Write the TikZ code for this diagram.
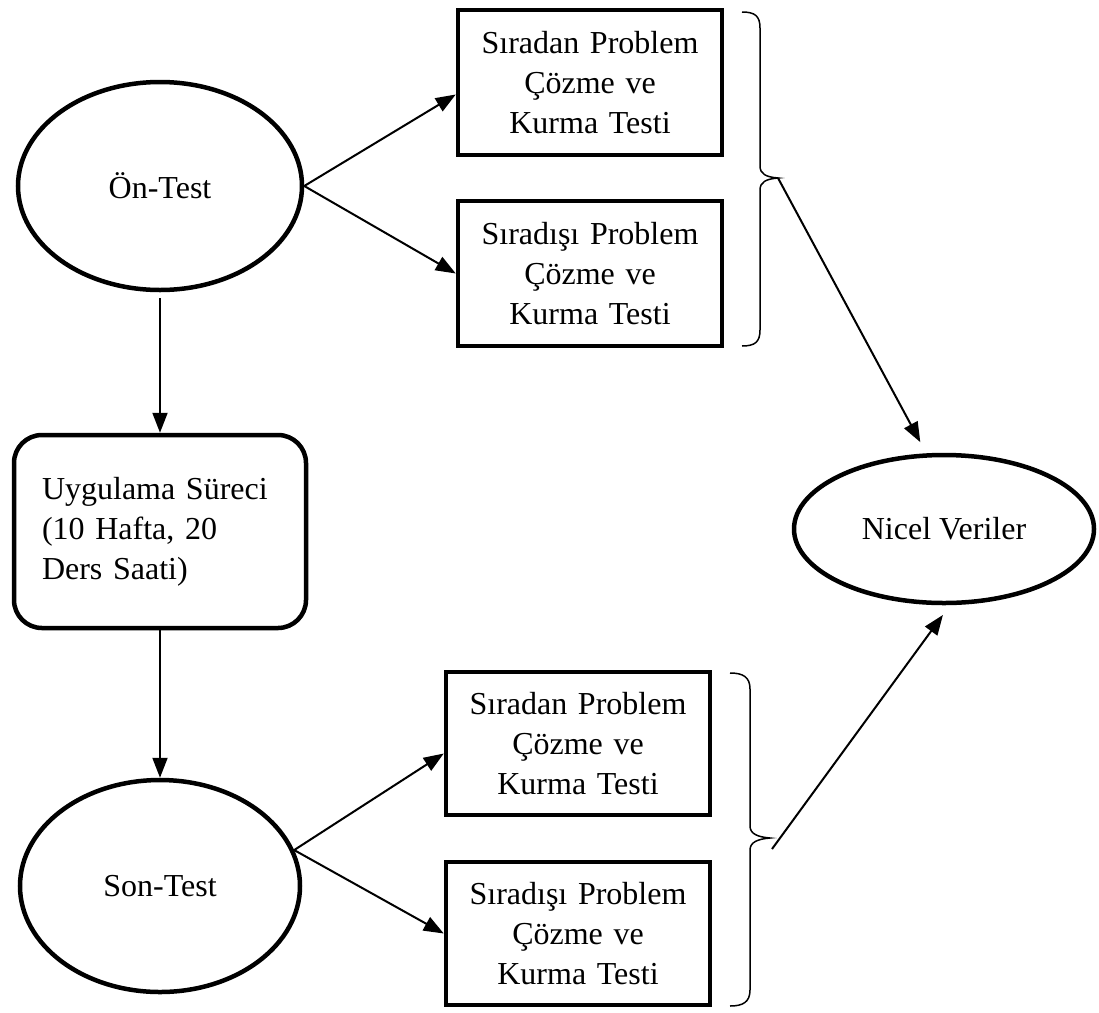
\documentclass[tikz,border=0pt]{standalone}
\usepackage{fontspec}
\setmainfont{Liberation Serif}
\usetikzlibrary{shapes.geometric,arrows.meta}
\begin{document}
\begin{tikzpicture}[x=1pt,y=-1pt,
  every node/.style={font=\fontsize{32}{40}\selectfont},
  oval/.style={draw,ellipse,line width=4.5pt,inner sep=0pt},
  testbox/.style={draw,rectangle,line width=4.5pt,minimum width=264pt,minimum height=145pt,text width=250pt,align=center,inner sep=0pt},
  procbox/.style={draw,rectangle,rounded corners=28pt,line width=4.5pt,minimum width=292pt,minimum height=193pt,text width=236pt,align=left,inner sep=0pt},
  arr/.style={line width=2pt,-{Triangle[length=20pt,width=15pt]}},
  brc/.style={line width=1.5pt}]
\useasboundingbox (0,0) rectangle (1099,1012);
% nodes
\node[oval,minimum width=284pt,minimum height=208pt] (on) at (160,186) {Ön-Test};
\node[testbox] (b1) at (590,82.5) {Sıradan Problem\\Çözme ve\\Kurma Testi};
\node[testbox] (b2) at (590,273.5) {Sıradışı Problem\\Çözme ve\\Kurma Testi};
\node[procbox] (up) at (160,531.5) {Uygulama Süreci\\(10 Hafta, 20\\Ders Saati)};
\node[oval,minimum width=280pt,minimum height=212pt] (son) at (160,886) {Son-Test};
\node[testbox,minimum height=143pt] (b3) at (578,743.5) {Sıradan Problem\\Çözme ve\\Kurma Testi};
\node[testbox,minimum height=143pt] (b4) at (578,933.5) {Sıradışı Problem\\Çözme ve\\Kurma Testi};
\node[oval,minimum width=300pt,minimum height=148pt] (nv) at (944,529) {Nicel Veriler};
% braces
\coordinate (t1) at (778,178);
\coordinate (t2) at (770,838);
\draw[brc] (742,12) .. controls (755,12) and (760,16) .. (760,28) -- (760,166)
  .. controls (760,174) and (766,177) .. (t1)
  .. controls (766,179) and (760,182) .. (760,190) -- (760,330)
  .. controls (760,342) and (755,346) .. (742,346);
\draw[brc] (730,673) .. controls (743,673) and (750,677) .. (750,689) -- (750,826)
  .. controls (750,834) and (758,837) .. (t2)
  .. controls (758,839) and (750,842) .. (750,850) -- (750,990)
  .. controls (750,1002) and (743,1006) .. (730,1006);
\coordinate (s2) at (772,849);
% connectors
\draw[arr] (on.east) -- ([yshift=-12pt]b1.west);
\draw[arr] (on.east) -- (b2.west);
\draw[arr,shorten <=6pt] (on.south) -- (up.north);
\draw[arr] (up.south) -- (son.north);
\draw[arr] (son.15) -- ([yshift=-10pt]b3.west);
\draw[arr] (son.15) -- (b4.west);
\draw[arr,shorten >=12pt] (t1) -- ([xshift=-18pt]nv.north);
\draw[arr,shorten >=12pt] (s2) -- ([xshift=6pt]nv.south);
\end{tikzpicture}
\end{document}
